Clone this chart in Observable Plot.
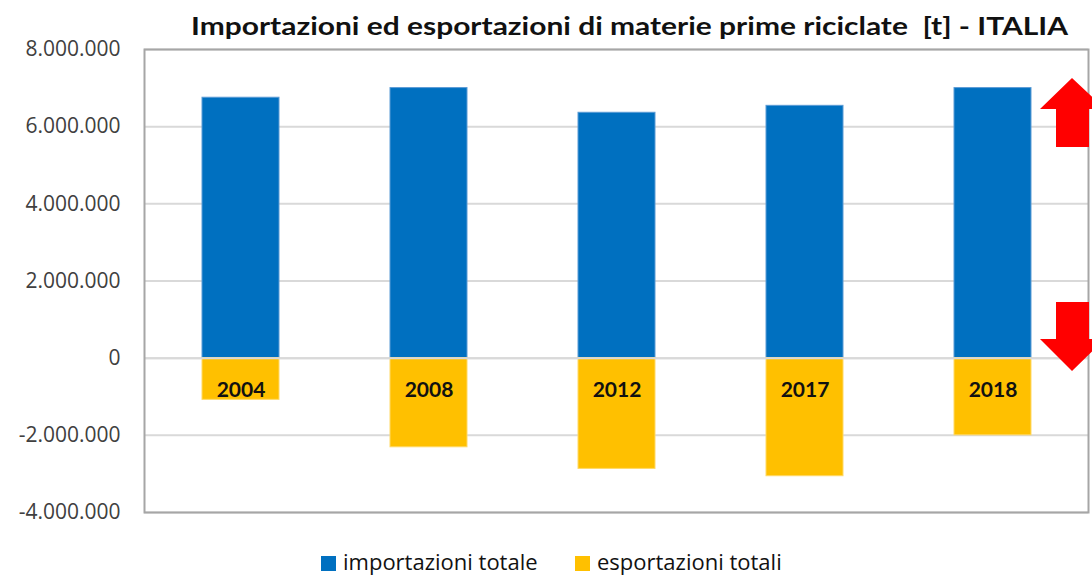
<!DOCTYPE html>
<html>
<head>
<meta charset="utf-8">
<script src="https://cdn.jsdelivr.net/npm/d3@7"></script>
<script src="https://cdn.jsdelivr.net/npm/@observablehq/plot@0.6"></script>
<style>
  html, body { margin: 0; padding: 0; background: #fff; }
  #wrap { position: relative; width: 1092px; height: 577px; overflow: hidden; font-family: "Open Sans", sans-serif; }
  #chart { position: absolute; left: 0; top: 0; }
  #overlay { position: absolute; left: 0; top: 0; pointer-events: none; }
  .leg { position: absolute; top: 546px; line-height: 30px; display: flex; align-items: center; font-size: 22px; color: #111; white-space: nowrap; }
  .sw { width: 15px; height: 15px; margin-right: 7px; margin-top: 4px; }
</style>
</head>
<body>
<div id="wrap">
  <div id="chart"></div>
  <svg id="overlay" width="1092" height="577">
    <text id="title" x="629.5" y="35" text-anchor="middle" font-family="Lato, sans-serif" font-weight="bold" font-size="25" fill="#111"
      textLength="877" lengthAdjust="spacingAndGlyphs" style="white-space: pre">Importazioni ed esportazioni di materie prime riciclate  [t] - ITALIA</text>
    <polygon points="1072,78 1105,109 1089,109 1089,147 1056,147 1056,109 1040,109" fill="#ff0000"/>
    <polygon points="1056,302 1089,302 1089,339 1105,339 1072,371 1040,339 1056,339" fill="#ff0000"/>
  </svg>
  <div class="leg" style="left:321px"><div class="sw" style="background:#0070C0"></div>importazioni totale</div>
  <div class="leg" style="left:575px"><div class="sw" style="background:#FFC000"></div>esportazioni totali</div>
</div>
<script>
const years = ["2004", "2008", "2012", "2017", "2018"];
const importazioni = [6750000, 7000000, 6360000, 6540000, 7000000];
const esportazioni = [-1080000, -2310000, -2870000, -3060000, -2000000];
const yTicks = [-4000000, -2000000, 0, 2000000, 4000000, 6000000, 8000000];

const locale = d3.formatLocale({decimal: ",", thousands: ".", grouping: [3], currency: ["", "€"], minus: "-"});
const fmt = locale.format(",d");

const impData = years.map((y, i) => ({year: y, value: importazioni[i]}));
const espData = years.map((y, i) => ({year: y, value: esportazioni[i]}));

const chart = Plot.plot({
  width: 1092,
  height: 540,
  marginTop: 49,
  marginBottom: 28,
  marginLeft: 144,
  marginRight: 4,
  style: {fontFamily: "Open Sans, sans-serif", background: "transparent"},
  x: {domain: years, paddingInner: 0.593, paddingOuter: 0.2965, axis: null},
  y: {domain: [-4000000, 8000000], ticks: yTicks, tickFormat: fmt, label: null},
  marks: [
    Plot.gridY(yTicks, {stroke: "#d9d9d9", strokeOpacity: 1, strokeWidth: 2}),
    Plot.barY(impData, {x: "year", y: "value", fill: "#0070C0", stroke: "#5b9bd5", strokeWidth: 1}),
    Plot.barY(espData, {x: "year", y: "value", fill: "#FFC000", stroke: "#ffd966", strokeWidth: 1}),
    Plot.ruleY([0], {stroke: "#d9d9d9", strokeWidth: 2}),
    Plot.frame({stroke: "#a6a6a6", strokeWidth: 2}),
    Plot.text(years, {x: d => d, y: 0, text: d => d, dy: 32, fontSize: 21, fontWeight: "bold", fill: "#111", fontFamily: "Lato, sans-serif"}),
    Plot.axisY(yTicks, {tickSize: 0, tickPadding: 24, fontSize: 21, fill: "#404040", tickFormat: fmt, label: null})
  ]
});
document.getElementById("chart").appendChild(chart);
</script>
</body>
</html>
